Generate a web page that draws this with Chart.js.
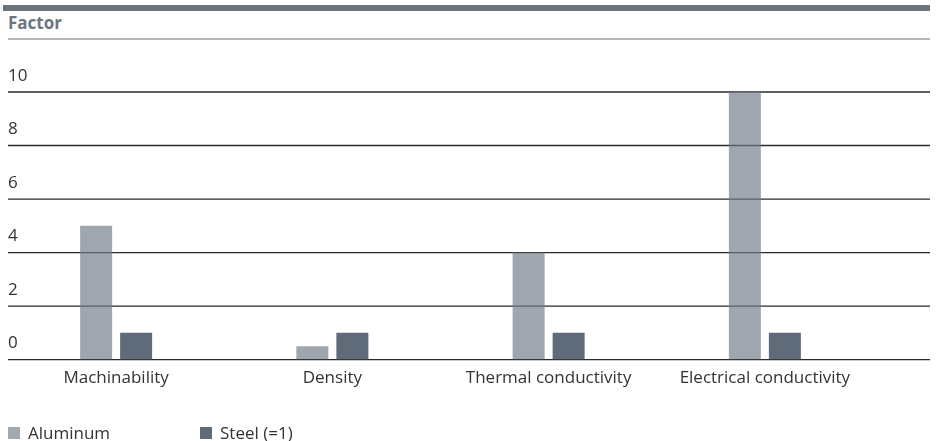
<!DOCTYPE html>
<html>
<head>
<meta charset="utf-8">
<script src="https://cdn.jsdelivr.net/npm/chart.js@4"></script>
<style>
  html, body {
    margin: 0;
    padding: 0;
    background: #fff;
  }
  #page {
    position: relative;
    width: 936px;
    height: 441px;
    overflow: hidden;
    font-family: "Open Sans", sans-serif;
  }
  #top-band {
    position: absolute;
    left: 3px;
    top: 5px;
    width: 927px;
    height: 6px;
    background: #6b7580;
  }
  #unit-label {
    position: absolute;
    left: 8px;
    top: 14px;
    font-size: 17px;
    line-height: 17px;
    font-weight: bold;
    color: #6b7580;
  }
  #unit-rule {
    position: absolute;
    left: 8px;
    top: 38px;
    width: 922px;
    height: 2px;
    background: #b3b8bd;
  }
  #chart {
    position: absolute;
    left: 0;
    top: 0;
  }
  .legend-item {
    position: absolute;
    top: 424px;
    font-size: 17px;
    line-height: 17px;
    color: #333;
    white-space: nowrap;
  }
  .legend-box {
    position: absolute;
    top: 3px;
    width: 12px;
    height: 12px;
  }
</style>
</head>
<body>
<div id="page">
  <div id="top-band"></div>
  <div id="unit-label">Factor</div>
  <div id="unit-rule"></div>
  <canvas id="chart" width="936" height="441"></canvas>
  <div id="legend"></div>
</div>
<script>
const categories = [
  "Machinability",
  "Density",
  "Thermal conductivity",
  "Electrical conductivity",
];
const aluminumValues = [5, 0.5, 4, 10];
const steelValues = [1, 1, 1, 1];
const yMin = 0;
const yMax = 10;
const yStep = 2;

const aluminumColor = "rgba(112, 123, 135, 0.67)";
const aluminumSwatch = "#a2a9b0";
const steelColor = "#5f6b79";

const chartCanvas = document.getElementById("chart");
const legendElement = document.getElementById("legend");

// horizontal rules under the bars, wider than the category axis
const gridLines = {
  id: "gridLines",
  beforeDatasetsDraw(chart) {
    const { ctx } = chart;
    const yScale = chart.scales.y;
    ctx.save();
    ctx.strokeStyle = "#2a2a2a";
    ctx.lineWidth = 1.3;
    yScale.ticks.forEach((tick) => {
      const y = yScale.getPixelForValue(tick.value);
      ctx.beginPath();
      ctx.moveTo(8, y);
      ctx.lineTo(930, y);
      ctx.stroke();
    });
    ctx.restore();
  },
};

function renderLegend(items) {
  let left = 8;
  items.forEach((item) => {
    const el = document.createElement("div");
    el.className = "legend-item";
    el.style.left = left + "px";
    el.style.paddingLeft = "20px";
    const box = document.createElement("span");
    box.className = "legend-box";
    box.style.left = "0px";
    box.style.background = item.color;
    el.appendChild(box);
    el.appendChild(document.createTextNode(item.label));
    legendElement.appendChild(el);
    left += 192;
  });
}

new Chart(chartCanvas, {
  type: "bar",
  data: {
    labels: categories,
    datasets: [
      {
        label: "Aluminum",
        data: aluminumValues,
        backgroundColor: aluminumColor,
        categoryPercentage: 0.37,
        barPercentage: 0.8,
      },
      {
        label: "Steel (=1)",
        data: steelValues,
        backgroundColor: steelColor,
        categoryPercentage: 0.37,
        barPercentage: 0.8,
      },
    ],
  },
  options: {
    responsive: false,
    animation: false,
    layout: {
      padding: { top: 92, left: 8, right: 63, bottom: 53 },
    },
    plugins: {
      legend: { display: false },
      tooltip: { enabled: false },
    },
    scales: {
      x: {
        grid: { display: false },
        border: { display: false },
        ticks: {
          color: "#333",
          padding: 0,
          font: { family: "Open Sans", size: 17 },
          maxRotation: 0,
        },
      },
      y: {
        min: yMin,
        max: yMax,
        grid: { display: false, drawTicks: false },
        border: { display: false },
        ticks: {
          stepSize: yStep,
          mirror: true,
          padding: 0,
          labelOffset: -16,
          color: "#333",
          font: { family: "Open Sans", size: 17 },
        },
      },
    },
  },
  plugins: [gridLines],
});

renderLegend([
  { label: "Aluminum", color: aluminumSwatch },
  { label: "Steel (=1)", color: steelColor },
]);
</script>
</body>
</html>
